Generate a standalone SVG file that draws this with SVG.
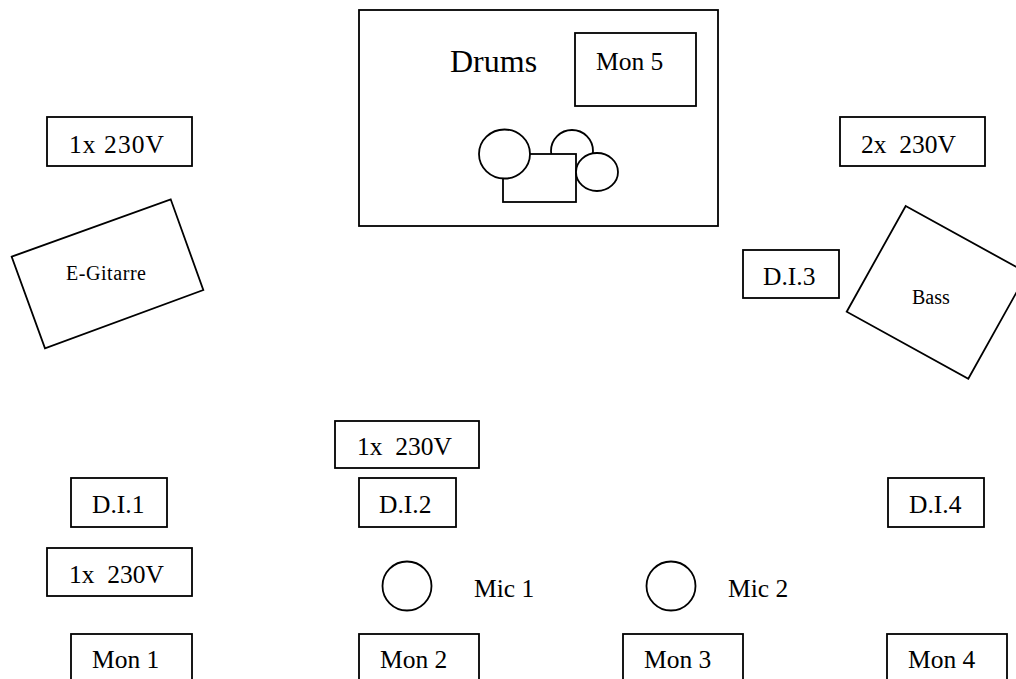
<svg xmlns="http://www.w3.org/2000/svg" width="1016" height="679" viewBox="0 0 1016 679">
<style>
.b{fill:#fff;stroke:#000;stroke-width:1.8}
text{font-family:"Liberation Serif","Times New Roman",serif;fill:#000;font-size:25.5px}
.s{font-size:20px}
.l{font-size:32px}
</style>
<rect width="1016" height="679" fill="#fff"/>
<g id="drums">
<rect class="b" x="359" y="10" width="359" height="216"/>
<text class="l" x="450" y="72">Drums</text>
<ellipse class="b" cx="572" cy="151" rx="21" ry="21"/>
<rect class="b" x="503" y="154" width="73" height="48"/>
<ellipse class="b" cx="504.5" cy="154" rx="25.5" ry="24.5"/>
<ellipse class="b" cx="597" cy="172" rx="21" ry="19"/>
</g>
<g id="mon5"><rect class="b" x="575" y="33" width="121" height="73"/><text x="596" y="70">Mon 5</text></g>
<g id="power1"><rect class="b" x="47" y="117" width="145" height="49"/><text x="69" y="153" textLength="95">1x 230V</text></g>
<g id="power2"><rect class="b" x="840" y="117" width="145" height="49"/><text x="861" y="153" xml:space="preserve">2x  230V</text></g>
<g id="egitarre"><polygon class="b" points="11.7,256.7 170.7,199.3 203.3,290 45,348.3"/><text class="s" x="66" y="280" textLength="80">E-Gitarre</text></g>
<g id="di3"><rect class="b" x="743" y="250" width="96" height="48"/><text x="763" y="285">D.I.3</text></g>
<g id="bass"><polygon class="b" points="905.7,206 1027.3,273 968.3,378.7 846.7,311.7"/><text class="s" x="912" y="304">Bass</text></g>
<g id="power3"><rect class="b" x="335" y="421" width="144" height="47"/><text x="357" y="455" xml:space="preserve">1x  230V</text></g>
<g id="di1"><rect class="b" x="71" y="478" width="96" height="49"/><text x="92" y="513">D.I.1</text></g>
<g id="di2"><rect class="b" x="359" y="478" width="97" height="49"/><text x="379" y="513">D.I.2</text></g>
<g id="di4"><rect class="b" x="888" y="478" width="96" height="49"/><text x="909" y="513">D.I.4</text></g>
<g id="power4"><rect class="b" x="47" y="548" width="145" height="48"/><text x="69" y="583" xml:space="preserve">1x  230V</text></g>
<g id="mic1"><circle class="b" cx="407" cy="586" r="24.5"/><text x="474" y="597">Mic 1</text></g>
<g id="mic2"><circle class="b" cx="671" cy="586" r="24.5"/><text x="728" y="597">Mic 2</text></g>
<g id="mon1"><rect class="b" x="71" y="634" width="121" height="60"/><text x="92" y="668">Mon 1</text></g>
<g id="mon2"><rect class="b" x="359" y="634" width="120" height="60"/><text x="380" y="668">Mon 2</text></g>
<g id="mon3"><rect class="b" x="623" y="634" width="120" height="60"/><text x="644" y="668">Mon 3</text></g>
<g id="mon4"><rect class="b" x="887" y="634" width="120" height="60"/><text x="908" y="668">Mon 4</text></g>
<g id="connectors"></g>
</svg>
